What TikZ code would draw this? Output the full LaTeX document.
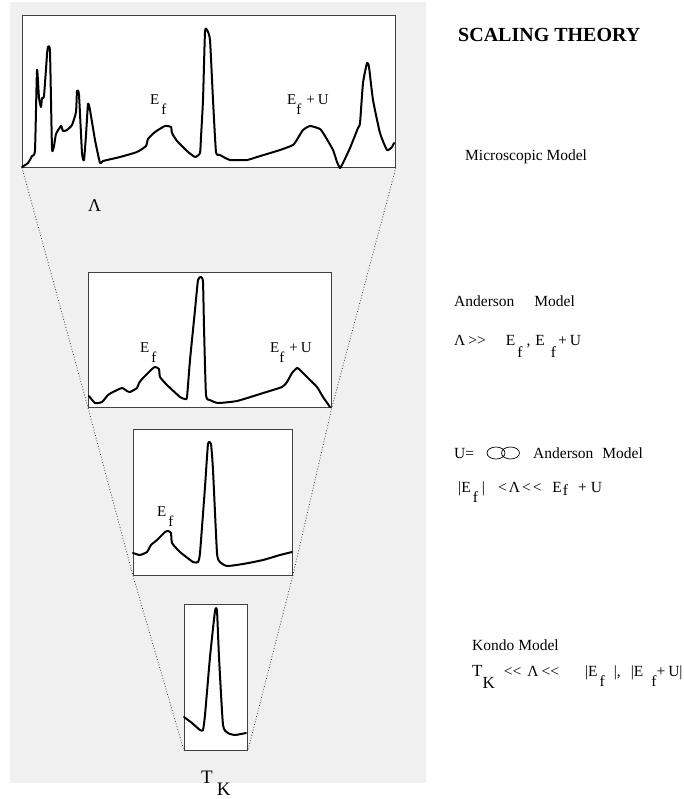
\documentclass[tikz,border=0pt]{standalone}
\usepackage{fontspec}
\setmainfont{Liberation Serif}
\usepackage{tikz}
\definecolor{bggray}{HTML}{F0F0F0}
\newcommand{\dn}[2][10pt]{\lower#1\hbox{#2}}

\begin{document}
\begin{tikzpicture}[x=1pt, y=-1pt,
	panel/.style={draw=black!75, fill=white, line width=0.8pt, inner sep=0pt, anchor=north west},
	spec/.style={line width=2pt, line join=round, line cap=round},
	funnel/.style={dotted, line width=0.8pt, black!80},
	lbl/.style={anchor=base west, inner sep=0pt, font=\fontsize{15}{18}\selectfont},
	txt/.style={anchor=base west, inner sep=0pt, font=\fontsize{15.5}{18}\selectfont}]
	\useasboundingbox (0,0) rectangle (683,799);
	\fill[bggray] (10,2) rectangle (426,783);
	\node[panel, minimum width=373pt, minimum height=152pt] (box1) at (22,15) {};
	\node[panel, minimum width=243pt, minimum height=135pt] (box2) at (88,272) {};
	\node[panel, minimum width=159pt, minimum height=146pt] (box3) at (133,429) {};
	\node[panel, minimum width=63pt, minimum height=146pt] (box4) at (184,604) {};
	\draw[funnel] (box1.south west) -- (box2.south west) -- (box3.south west) -- (box4.south west);
	\draw[funnel] (box1.south east) -- (box2.south east) -- (box3.south east) -- (box4.south east);
	\draw[spec] plot[smooth, tension=0.3] coordinates {(22,167) (28,163) (32,156) (35,150) (37,70) (39,98) (41,107) (42,98) (44,96) (47,55) (48,47) (50,52) (52,148) (54,146) (56,134) (61,126) (63,131) (67,130) (72,125) (76,112) (77,91) (79,95) (82,153) (84,160) (86,135) (88,104) (90,110) (95,140) (100,163) (103,161) (120,157) (137,152) (146,146) (148,139) (155,132) (165,126) (171,127) (172,133) (177,141) (187,151) (195,157) (200,153) (201,137) (203,100) (205,32) (207,30) (210,40) (213,100) (216,152) (220,155) (230,160) (247,160) (257,157) (267,154) (280,150) (293,145) (298,138) (303,130) (310,126) (320,129) (325,136) (333,150) (337,162) (340,168) (343,163) (350,148) (358,128) (360,123) (363,83) (367,63) (369,67) (373,100) (380,133) (387,150) (392,147) (394,143)};
	\draw[spec] plot[smooth, tension=0.3] coordinates {(89,396) (95,403) (102,402) (108,395) (113,392) (122,388) (127,391) (130,392) (137,388) (139,383) (143,378) (152,369) (155,367) (159,369) (160,377) (167,385) (180,397) (185,399) (187,397) (190,360) (195,310) (198,280) (201,277) (203,282) (204,327) (206,395) (210,400) (218,403) (237,401) (260,394) (282,387) (287,382) (292,373) (297,368) (300,370) (308,378) (317,387) (323,397) (330,407)};
	\draw[spec] plot[smooth, tension=0.3] coordinates {(133,553) (140,555) (147,552) (151,545) (157,540) (165,532) (168,531) (171,533) (172,543) (180,552) (193,562) (198,562) (200,553) (205,487) (208,444) (211,444) (213,470) (217,553) (220,562) (227,566) (243,564) (263,560) (280,555) (292,552)};
	\draw[spec] plot[smooth, tension=0.3] coordinates {(184,717) (192,723) (200,730) (203,730) (205,715) (210,657) (215,611) (217,611) (219,657) (223,725) (228,733) (235,735) (246,733)};
	\node[lbl] (ef1) at (150,105) {E\dn{\kern2pt f}};
	\node[lbl] (efu1) at (287,105) {E\dn{f}\kern5pt+\kern3pt U};
	\node[lbl] (ef2) at (140,352) {E\dn{\kern2pt f}};
	\node[lbl] (efu2) at (270,352) {E\dn{f}\kern5pt+\kern3pt U};
	\node[lbl] (ef3) at (157,516) {E\dn{\kern2pt f}};
	\node[anchor=base west, inner sep=0pt, font=\fontsize{18}{20}\selectfont] (cutoff) at (88,212) {Λ};
	\node[anchor=base west, inner sep=0pt, font=\fontsize{19}{20}\selectfont] (tk) at (201,783) {T\dn[12pt]{\kern4pt K}};
	\node[anchor=base west, inner sep=0pt, font=\fontsize{20}{24}\selectfont\bfseries] (title) at (458,42) {SCALING THEORY};
	\node[txt] (micro) at (465,161) {Microscopic Model};
	\node[txt] (anders) at (454,306) {Anderson\hspace{20pt}Model};
	\node[txt] (anderscond) at (454,345) {Λ\kern3pt>\kern0pt>\hspace{20pt}E\dn[12pt]{\kern2pt f}\kern4pt,\kern5pt E\dn[12pt]{\kern6pt f}\kern2pt+\kern3pt U};
	\node[txt] (uinf) at (454,458) {U=};
	\draw[line width=0.7pt] (496,453) ellipse (9 and 6) (510.5,453) ellipse (9 and 6);
	\node[txt] (uinfmodel) at (533,458) {Anderson\hspace{9pt}Model};
	\node[txt] (uinfcond) at (458,492) {|E\dn{\kern2pt f}\kern4pt|\hspace{13pt}<\kern2pt Λ\kern2pt<\kern2pt<\hspace{11pt}E\dn[3pt]{\kern1pt f}\hspace{10pt}+\kern4pt U};
	\node[txt] (kondo) at (472,650) {Kondo Model};
	\node[txt] (kondocond) at (472,676) {{\fontsize{17}{18}\selectfont T\dn[12pt]{K}}\kern9pt<\kern0pt<\kern6pt Λ\kern3pt<\kern0pt<\hspace{26pt}|E\dn{\kern2pt f}\kern9pt|,\hspace{10pt}|E\dn{\kern8pt f}+\kern3pt U|};
\end{tikzpicture}
\end{document}
